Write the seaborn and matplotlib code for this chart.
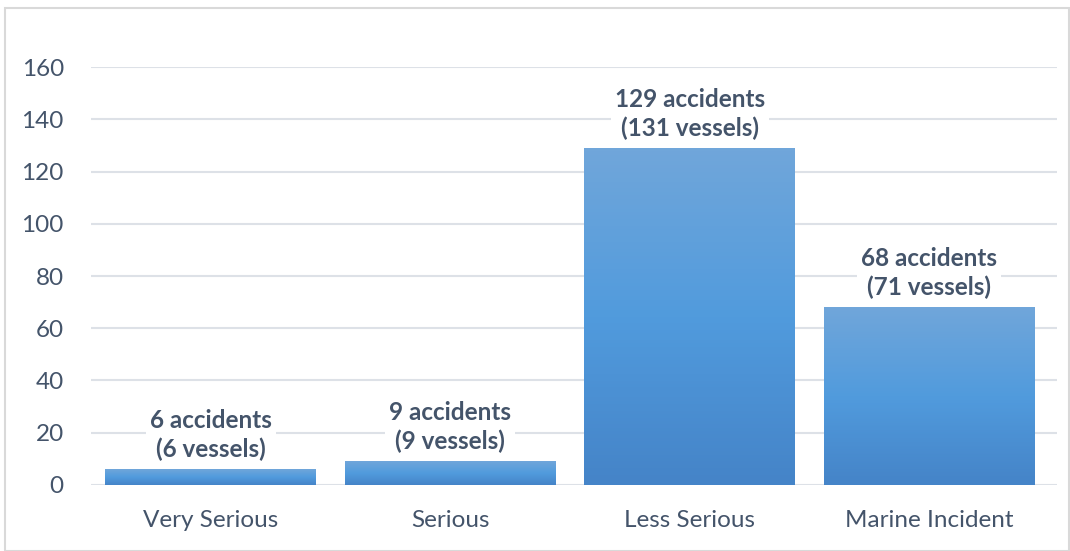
import numpy as np
import pandas as pd
import matplotlib.pyplot as plt
import seaborn as sns
from matplotlib.patches import Rectangle
from matplotlib.colors import LinearSegmentedColormap

# chart data
categories = ["Very Serious", "Serious", "Less Serious", "Marine Incident"]
accidents = [6, 9, 129, 68]
vessels = [6, 9, 131, 71]
yticks = [0, 20, 40, 60, 80, 100, 120, 140, 160]

df = pd.DataFrame({"category": categories, "accidents": accidents})

sns.set_style("white")
plt.rcParams['font.family'] = ['Lato', 'DejaVu Sans']
text_col = "#44546a"

fig = plt.figure(figsize=(10.7, 5.51), dpi=100)
ax = fig.add_axes([0.085, 0.12, 0.9028, 0.758])

sns.barplot(data=df, x="category", y="accidents", color="#5b9bd5",
            width=0.88, saturation=1, ax=ax, zorder=3)

# excel-like vertical gradient on each bar
grad = LinearSegmentedColormap.from_list("g", ["#4584c8", "#519bdd", "#70a6da"])
for p in ax.patches:
    x0, y0 = p.get_x(), p.get_y()
    w, h = p.get_width(), p.get_height()
    img = np.linspace(0, 1, 100).reshape(-1, 1)
    im = ax.imshow(img, cmap=grad, origin="lower", aspect="auto",
                   extent=[x0, x0 + w, y0, y0 + h], zorder=3)
    im.set_clip_path(p)
    p.set_edgecolor("none")
ax.set_xlim(-0.5, 3.533)
ax.set_ylim(0, 160)

# data labels
for i, (a, v) in enumerate(zip(accidents, vessels)):
    ax.text(i, a + 3.0, f"{a} accidents\n({v} vessels)", ha="center", va="bottom",
            fontsize=17.5, fontweight="bold", color=text_col, linespacing=1.3,
            bbox=dict(facecolor="white", edgecolor="none", pad=3), zorder=4)

ax.set_yticks(yticks)
ax.yaxis.grid(True, color="#dde1e7", linewidth=1.5, zorder=0)
ax.set_axisbelow(True)
for s in ax.spines.values():
    s.set_visible(False)
ax.tick_params(axis="both", length=0, labelsize=17.5, colors=text_col)
ax.tick_params(axis="y", pad=19.5)
ax.tick_params(axis="x", pad=18)
ax.set_xlabel("")
ax.set_ylabel("")

# chart border
fig.patches.append(Rectangle((0.005, 0.0), 0.994, 0.986, transform=fig.transFigure,
                             fill=False, edgecolor="#d9d9d9", linewidth=1.5))

plt.savefig("out.png", dpi=100)
